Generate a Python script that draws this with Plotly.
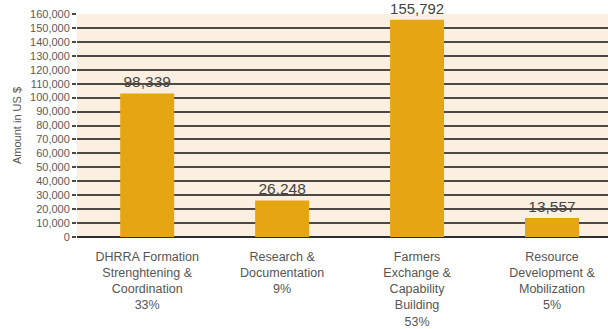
import plotly.graph_objects as go

categories = ["DHRRA Formation<br>Strenghtening &<br>Coordination<br>33%",
              "Research &<br>Documentation<br>9%",
              "Farmers<br>Exchange &<br>Capability<br>Building<br>53%",
              "Resource<br>Development &<br>Mobilization<br>5%"]
bar_heights = [103000, 26248, 155792, 13557]
value_labels = ["98,339", "26,248", "155,792", "13,557"]
y_ticks = list(range(0, 160001, 10000))
y_ticktext = [f"{v:,}" for v in y_ticks]

xpos = [0, 1, 2, 3]

fig = go.Figure()
fig.add_trace(go.Bar(
    x=xpos, y=bar_heights, width=0.4,
    marker=dict(color="#E6A513", line=dict(width=0)),
    text=value_labels, textposition="outside", cliponaxis=False,
    textfont=dict(size=15.5, color="#444444", family="Liberation Sans"),
))

fig.update_layout(
    width=608, height=329,
    margin=dict(l=77, r=0, t=14, b=92),
    paper_bgcolor="white", plot_bgcolor="#FAEFE0",
    showlegend=False,
    font=dict(family="Liberation Sans", color="#555555"),
)
fig.update_xaxes(
    range=[-0.52, 3.415], tickmode="array", tickvals=xpos, ticktext=categories,
    tickfont=dict(size=12.5, color="#555555"), showgrid=False, ticks="",
    ticklabelstandoff=10,
    showline=False, zeroline=False,
)
fig.update_yaxes(
    range=[0, 160000], tickmode="array", tickvals=y_ticks, ticktext=y_ticktext,
    tickfont=dict(size=11, color="#5a5a5a"),
    showgrid=True, gridcolor="#4e4844", gridwidth=1.5,
    ticks="outside", ticklen=4, tickcolor="#4e4844", tickwidth=1.5,
    zeroline=True, zerolinecolor="#2e2e2e", zerolinewidth=1.6,
    title=dict(text="Amount in US $", font=dict(size=11, color="#555555"), standoff=6),
)

fig.write_html("out.html")
